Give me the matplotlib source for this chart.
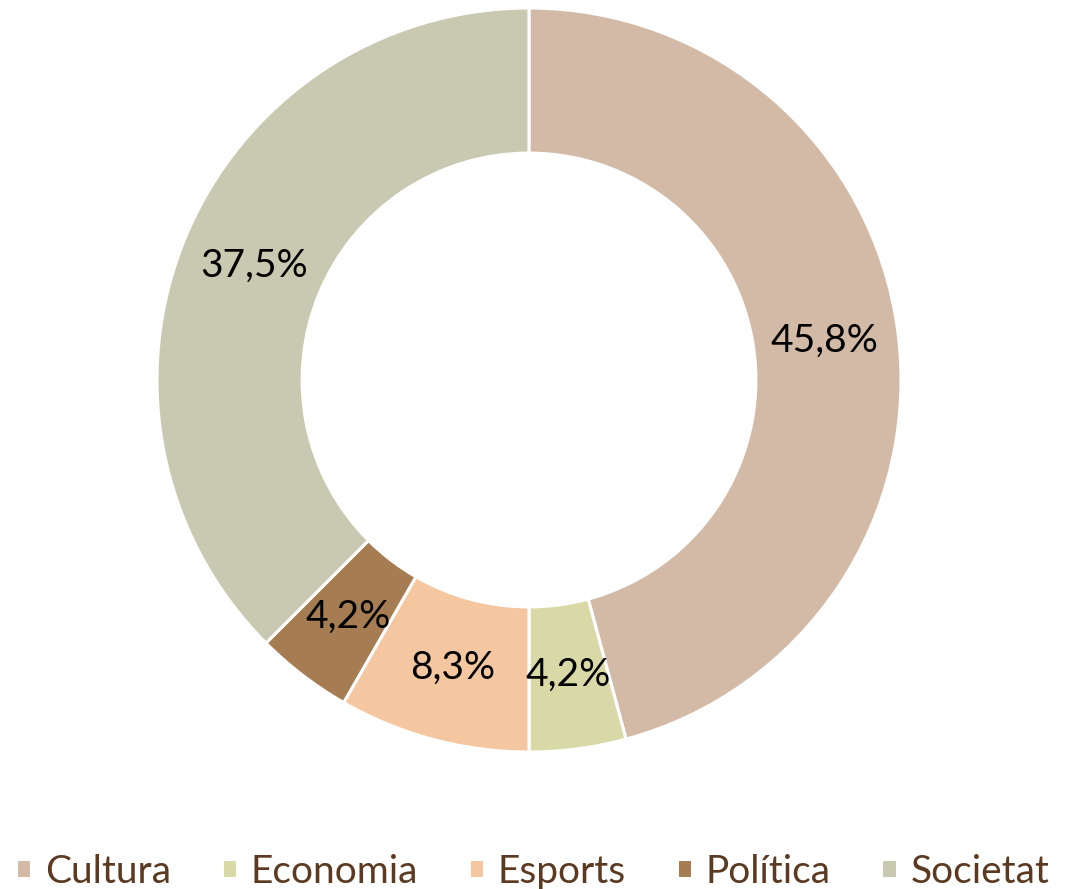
import matplotlib.pyplot as plt

# data
categories = ["Cultura", "Economia", "Esports", "Política", "Societat"]
shares = [45.8, 4.2, 8.3, 4.2, 37.5]
colors = ["#D3BAA7", "#D9D9A8", "#F4C7A0", "#A67D53", "#C9C9B1"]

plt.rcParams['font.family'] = ['Lato', 'DejaVu Sans']

fig = plt.figure(figsize=(10.76, 8.89), dpi=100)
ax = fig.add_axes([157/1076, 137/889, 744/1076, 744/889])

def fmt(p):
    return ("%.1f%%" % p).replace(".", ",")

wedges, texts, autotexts = ax.pie(
    shares, colors=colors, startangle=90, counterclock=False,
    autopct=fmt, pctdistance=0.80,
    wedgeprops=dict(width=0.39, edgecolor="white", linewidth=2.2),
    textprops=dict(fontsize=28, color="black"))
ax.set_xlim(-1, 1)
ax.set_ylim(-1, 1)
ax.set_aspect("equal")

fig.legend(wedges, categories, loc="lower center", bbox_to_anchor=(0.495, -0.04),
           ncol=5, frameon=False, fontsize=28, labelcolor="#5B3A21",
           handlelength=0.4, handleheight=0.4, handletextpad=0.35, columnspacing=1.3)

fig.savefig("out.png", dpi=100)
